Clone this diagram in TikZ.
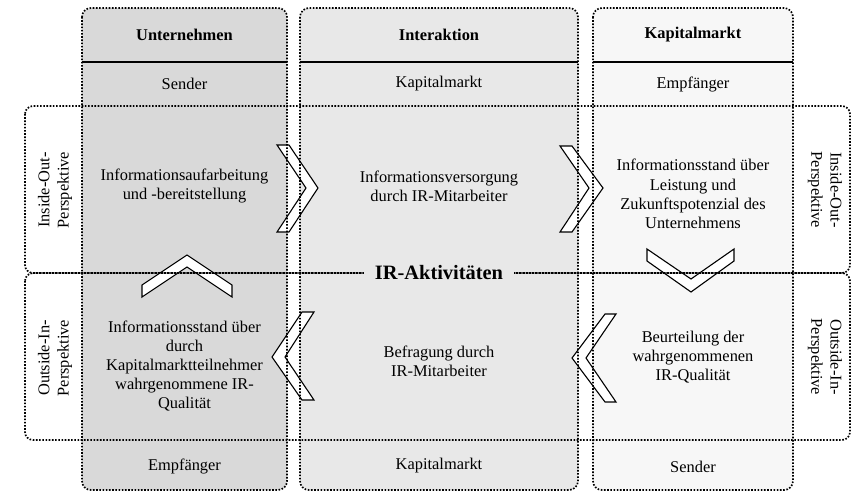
\documentclass[tikz,border=0pt]{standalone}
\usepackage{fontspec}
\setmainfont{Liberation Serif}
\begin{document}
\begin{tikzpicture}[x=1pt,y=-1pt,
  txt/.style={align=center, font=\fontsize{16.4}{19.2}\selectfont, inner sep=0pt},
  hdr/.style={align=center, font=\fontsize{16.4}{19.2}\selectfont\bfseries, inner sep=0pt},
  dotline/.style={line width=1.7pt, dash pattern=on 1.6pt off 1.6pt},
  colbox/.style={rounded corners=9pt},
  chev/.style={draw=black, fill=white, line width=1.1pt, line join=miter},
  headrule/.style={line width=2.4pt},
]
\useasboundingbox (0,0) rectangle (852,493);

% column backgrounds
\fill[black!15, colbox] (82,8) rectangle (287,490);
\fill[black!9,  colbox] (300,8) rectangle (578,490);
\fill[black!3,  colbox] (593,8) rectangle (793,490);

% chevron arrows between the fields
\draw[chev] (277,145) -- (289,145) -- (318,188) -- (289,232) -- (277,232) -- (306,188) -- cycle;
\draw[chev] (560,146) -- (572,146) -- (603,188) -- (572,232) -- (560,232) -- (589,188) -- cycle;
\draw[chev] (647,249) -- (691,279) -- (734,249) -- (734,261) -- (691,292) -- (647,261) -- cycle;
\draw[chev] (616,314) -- (586,358) -- (616,402) -- (605,402) -- (572,358) -- (605,314) -- cycle;
\draw[chev] (314,312) -- (285,357) -- (314,400) -- (302,400) -- (272,357) -- (302,312) -- cycle;
\draw[chev] (142,285) -- (187,255) -- (232,285) -- (232,297) -- (187,267) -- (142,297) -- cycle;

% column outlines
\draw[dotline, colbox] (82,8) rectangle (287,490);
\draw[dotline, colbox] (300,8) rectangle (578,490);
\draw[dotline, colbox] (593,8) rectangle (793,490);

% perspective bands
\draw[dotline, rounded corners=8pt] (25,106) rectangle (850,273);
\draw[dotline, rounded corners=8pt] (25,273) rectangle (850,440);

% header rules
\draw[headrule] (82,62) -- (287,62);
\draw[headrule] (300,62) -- (578,62);
\draw[headrule] (593,62) -- (793,62);

% headers
\node[hdr] (hU) at (184.5,35) {Unternehmen};
\node[hdr] (hI) at (439,35) {Interaktion};
\node[hdr] (hK) at (693,35) {Kapitalmarkt};

% roles, top row
\node[txt] (rU) at (184.5,84) {Sender};
\node[txt] (rI) at (439,84) {Kapitalmarkt};
\node[txt] (rK) at (693,84) {Empfänger};

% inside-out row
\node[txt] (aU) at (184.5,186) {Informationsaufarbeitung\\und -bereitstellung};
\node[txt] (aI) at (439,186) {Informationsversorgung\\durch IR-Mitarbeiter};
\node[txt] (aK) at (693,194) {Informationsstand über\\Leistung und\\Zukunftspotenzial des\\Unternehmens};

% outside-in row
\node[txt] (bU) at (184.5,366) {Informationsstand über\\durch\\Kapitalmarktteilnehmer\\wahrgenommene IR-\\Qualität};
\node[txt] (bI) at (439,361) {Befragung durch\\IR-Mitarbeiter};
\node[txt] (bK) at (693,357) {Beurteilung der\\wahrgenommenen\\IR-Qualität};

% roles, bottom row
\node[txt] (sU) at (184.5,466) {Empfänger};
\node[txt] (sI) at (439,466) {Kapitalmarkt};
\node[txt] (sK) at (693,467) {Sender};

% perspective labels
\node[txt, rotate=90]  (pL1) at (55,190) {Inside-Out-\\Perspektive};
\node[txt, rotate=-90] (pR1) at (825,190) {Inside-Out-\\Perspektive};
\node[txt, rotate=90]  (pL2) at (55,358) {Outside-In-\\Perspektive};
\node[txt, rotate=-90] (pR2) at (825,357) {Outside-In-\\Perspektive};

% central title on the band divider
\node[fill=black!9, inner xsep=11pt, inner ysep=3pt,
      font=\fontsize{20.4}{24}\selectfont\bfseries] (ir) at (439,273) {IR-Aktivitäten};
\end{tikzpicture}
\end{document}
